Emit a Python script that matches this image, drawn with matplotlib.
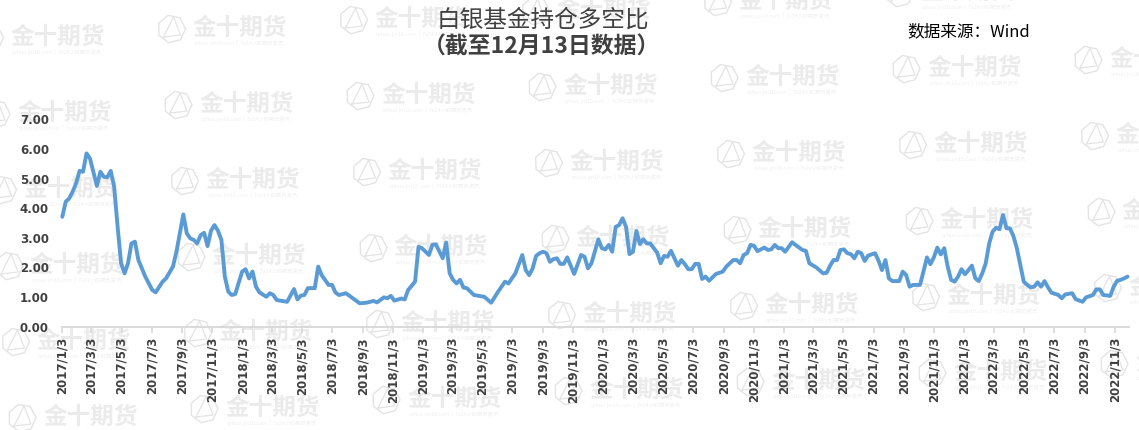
import matplotlib
matplotlib.use('Agg')
import matplotlib.pyplot as plt
import numpy as np
import pandas as pd
from matplotlib.patches import RegularPolygon
from matplotlib.lines import Line2D

# ---------------- data ----------------
start_date = '2017-01-03'          # first weekly observation
week_index = [0, 1, 2, 3, 4, 5, 6, 7, 8, 10, 11, 12, 13, 14, 15, 16, 17, 18, 19, 20,
              21, 22, 24, 26, 27, 29, 30, 32, 33, 35, 36, 37, 38, 39, 40, 41, 42, 43, 44, 45,
              46, 47, 48, 49, 50, 52, 53, 54, 55, 56, 57, 59, 60, 61, 62, 65, 67, 68, 69, 70,
              71, 73, 74, 75, 77, 78, 79, 80, 82, 84, 86, 88, 90, 91, 93, 94, 95, 96, 98, 99,
              100, 102, 103, 104, 106, 107, 108, 110, 111, 112, 113, 114, 115, 116, 117, 119, 120, 122, 124, 126,
              128, 129, 131, 133, 134, 135, 136, 137, 138, 139, 140, 141, 142, 143, 144, 145, 146, 148, 150, 151,
              152, 153, 155, 156, 157, 158, 159, 160, 161, 162, 163, 164, 165, 166, 167, 168, 169, 170, 172, 173,
              174, 175, 176, 177, 178, 179, 180, 181, 182, 183, 184, 185, 186, 187, 189, 191, 192, 194, 195, 196,
              197, 198, 199, 200, 201, 203, 204, 205, 206, 207, 208, 209, 211, 212, 214, 215, 216, 218, 220, 221,
              222, 223, 224, 225, 226, 227, 228, 229, 230, 231, 232, 233, 234, 235, 236, 237, 238, 239, 240, 242,
              243, 244, 245, 246, 248, 249, 250, 251, 252, 253, 254, 255, 256, 257, 258, 259, 260, 261, 262, 263,
              264, 265, 266, 267, 268, 269, 270, 271, 272, 273, 274, 275, 276, 277, 278, 279, 280, 281, 282, 283,
              284, 285, 286, 288, 289, 290, 292, 293, 295, 296, 298, 299, 300, 301, 303, 304, 305, 306, 307, 308]
ratio = [3.71, 4.22, 4.33, 4.56, 4.84, 5.26, 5.23, 5.85, 5.68, 4.75, 5.23, 5.06, 5.04, 5.26, 4.72, 3.37, 2.14, 1.80, 2.14, 2.81,
         2.87, 2.25, 1.69, 1.24, 1.16, 1.52, 1.63, 2.03, 2.53, 3.79, 3.15, 2.98, 2.93, 2.81, 3.09, 3.17, 2.72, 3.24, 3.43, 3.24,
         2.93, 1.69, 1.18, 1.07, 1.10, 1.86, 1.94, 1.63, 1.86, 1.35, 1.16, 1.01, 1.13, 1.07, 0.90, 0.84, 1.27, 0.92, 1.05, 1.07,
         1.30, 1.30, 2.03, 1.74, 1.41, 1.41, 1.15, 1.07, 1.13, 0.96, 0.79, 0.81, 0.87, 0.82, 0.99, 0.96, 1.04, 0.88, 0.95, 0.92,
         1.24, 1.52, 2.70, 2.65, 2.42, 2.76, 2.78, 2.31, 2.84, 1.80, 1.58, 1.46, 1.58, 1.32, 1.30, 1.07, 1.05, 1.01, 0.81, 1.18,
         1.52, 1.46, 1.80, 2.42, 1.91, 1.74, 1.97, 2.39, 2.48, 2.53, 2.48, 2.19, 2.28, 2.31, 2.12, 2.12, 2.34, 1.78, 2.42, 2.36,
         1.97, 2.14, 2.95, 2.65, 2.61, 2.76, 2.53, 3.37, 3.43, 3.66, 3.37, 2.45, 2.53, 3.23, 2.79, 2.95, 2.81, 2.81, 2.50, 2.14,
         2.39, 2.36, 2.56, 2.31, 2.06, 2.25, 2.11, 1.94, 1.94, 2.12, 2.12, 1.61, 1.69, 1.55, 1.78, 1.86, 2.03, 2.25, 2.25, 2.14,
         2.42, 2.48, 2.76, 2.73, 2.55, 2.67, 2.59, 2.61, 2.76, 2.65, 2.65, 2.53, 2.85, 2.76, 2.59, 2.56, 2.14, 2.00, 1.80, 1.82,
         2.06, 2.25, 2.25, 2.59, 2.61, 2.48, 2.45, 2.31, 2.53, 2.48, 2.22, 2.40, 2.44, 2.48, 2.23, 1.91, 2.25, 1.63, 1.54, 1.54,
         1.86, 1.74, 1.35, 1.41, 1.41, 1.86, 2.34, 2.11, 2.34, 2.67, 2.44, 2.65, 2.03, 1.58, 1.52, 1.69, 1.94, 1.77, 1.91, 2.06,
         1.63, 1.54, 1.80, 2.14, 2.81, 3.21, 3.34, 3.29, 3.77, 3.32, 3.32, 3.06, 2.65, 2.08, 1.52, 1.41, 1.33, 1.35, 1.50, 1.35,
         1.54, 1.33, 1.15, 1.07, 0.96, 1.09, 1.13, 0.93, 0.84, 0.99, 1.07, 1.26, 1.26, 1.07, 1.04, 1.35, 1.55, 1.58, 1.63, 1.69]

tick_first = '2017-01-03'
tick_last = '2022-11-03'
y_ticks = [0, 1, 2, 3, 4, 5, 6, 7]

title_main = '白银基金持仓多空比'
title_sub = '（截至12月13日数据）'
source_text = '数据来源：Wind'
wm_text = '金十期货'
wm_sub = 'qihuo.jin10.com  |  7x24小时期货资讯'

# ---------------- figure ----------------
W, H = 1139, 430
fig = plt.figure(figsize=(W / 100, H / 100), dpi=100)
fig.patch.set_facecolor('white')
cjk = ['Noto Sans CJK SC', 'DejaVu Sans']

# watermark layer in pixel coordinates
bg = fig.add_axes([0, 0, 1, 1])
bg.set_xlim(0, W)
bg.set_ylim(H, 0)
bg.axis('off')
bg.set_zorder(0)
for i in range(-1, 7):
    for j in range(-1, 5):
        tx = 17 + 182 * i + 6.5 * j
        ty = 113 - 9 * i + 76 * j
        if tx < -120 or tx > W + 40 or ty < -20 or ty > H + 20:
            continue
        bg.text(tx, ty, wm_text, fontsize=17, fontweight='bold', color='#ebebeb',
                family=cjk, ha='left', va='center')
        bg.text(tx + 2, ty + 15, wm_sub, fontsize=3.8, color='#efefef',
                family=cjk, ha='left', va='center')
        cx, cy = tx - 21, ty + 1
        bg.add_patch(RegularPolygon((cx, cy), numVertices=7, radius=14, orientation=0.2,
                                    fill=False, edgecolor='#e4e4e4', lw=1.0))
        bg.add_line(Line2D([cx - 8, cx + 2, cx + 9, cx - 8], [cy + 8, cy - 12, cy + 6, cy + 8],
                           color='#e4e4e4', lw=0.9))

# main plot area
left_px, right_px, bottom_px, top_px = 61.5, 1129, 326.7, 119.3
ax = fig.add_axes([left_px / W, 1 - bottom_px / H, (right_px - left_px) / W, (bottom_px - top_px) / H])
ax.set_zorder(1)
ax.patch.set_alpha(0)

t0 = pd.Timestamp(start_date)
dates = t0 + pd.to_timedelta(np.array(week_index) * 7, unit='D')
ax.plot(dates, ratio, color='#5B9BD5', lw=2.8, solid_joinstyle='round', solid_capstyle='round', clip_on=False)

ax.set_ylim(0, 7)
ax.set_xlim(t0 - pd.Timedelta(days=1.6), t0 + pd.Timedelta(days=2159))

tick_dates = pd.date_range(tick_first, tick_last, freq=pd.DateOffset(months=2))
ax.set_xticks(tick_dates)
ax.set_xticklabels([f'{d.year}/{d.month}/{d.day}' for d in tick_dates], rotation=90,
                   fontsize=8.5, fontweight='bold', color='#404040', family='DejaVu Sans')
ax.set_yticks(y_ticks)
ax.set_yticklabels([f'{v:.2f}' for v in y_ticks], fontsize=8.5, fontweight='bold',
                   color='#404040', family='DejaVu Sans')

for s in ['top', 'right', 'left']:
    ax.spines[s].set_visible(False)
ax.spines['bottom'].set_color('#d9d9d9')
ax.spines['bottom'].set_linewidth(1.4)
ax.tick_params(axis='x', direction='out', length=4, width=1.2, color='#d9d9d9', pad=3.5)
ax.tick_params(axis='y', length=0, pad=9)
ax.grid(False)

# titles and source
fig.text(543 / W, 1 - 20 / H, title_main, fontsize=17, color='#404040', family=cjk,
         ha='center', va='center')
fig.text(542 / W, 1 - 47 / H, title_sub, fontsize=16.5, fontweight='bold', color='#404040',
         family=cjk, ha='center', va='center')
fig.text(907 / W, 1 - 31.5 / H, source_text, fontsize=12, color='#000000', family=cjk,
         ha='left', va='center')

fig.savefig('out.png', dpi=100, facecolor='white')
